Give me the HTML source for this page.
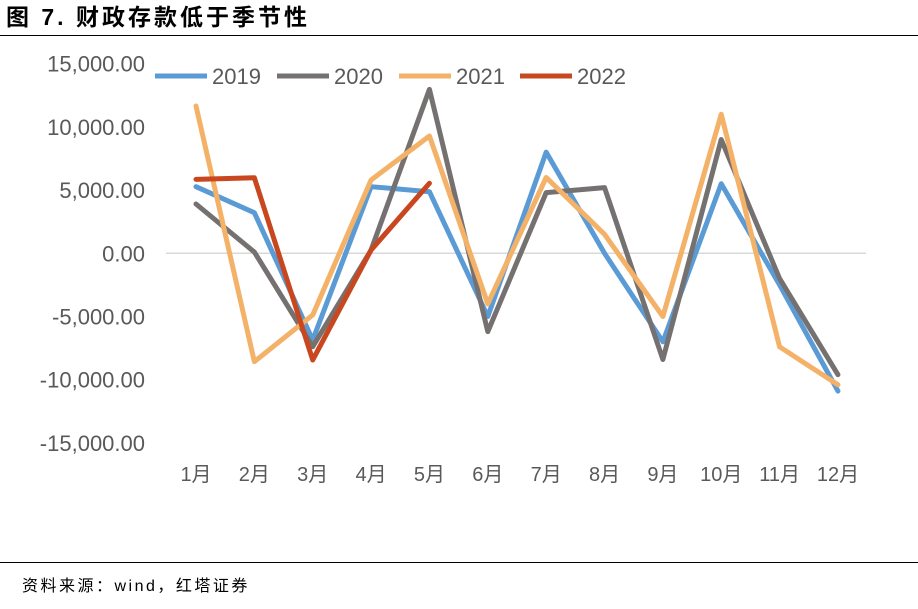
<!DOCTYPE html>
<html><head><meta charset="utf-8"><style>
body{margin:0;background:#fff;width:918px;height:604px;overflow:hidden;font-family:"Liberation Sans","Noto Sans CJK SC",sans-serif}
</style></head><body>
<svg width="918" height="604" xmlns="http://www.w3.org/2000/svg">
<text x="6" y="25" font-size="23" font-weight="bold" letter-spacing="3" fill="#000" font-family="Liberation Sans,Noto Sans CJK SC,sans-serif">图 7. 财政存款低于季节性</text>
<line x1="0" y1="35.5" x2="918" y2="35.5" stroke="#000" stroke-width="1"/>
<line x1="0" y1="562.5" x2="918" y2="562.5" stroke="#000" stroke-width="1"/>
<text x="22" y="591" font-size="16" letter-spacing="2.5" fill="#000" font-family="Liberation Sans,Noto Sans CJK SC,sans-serif">资料来源：wind，红塔证券</text>
<g id="axes"></g><g id="series"></g><g id="legend"></g>
</svg>
<script>
const months=["1月","2月","3月","4月","5月","6月","7月","8月","9月","10月","11月","12月"];
const yTicks=[15000,10000,5000,0,-5000,-10000,-15000];
const yTickLabels=["15,000.00","10,000.00","5,000.00","0.00","-5,000.00","-10,000.00","-15,000.00"];
const seriesNames=["2019","2020","2021","2022"];
const s2019=[5270,3210,-6860,5270,4870,-5000,8000,0,-7000,5500,-2500,-10900];
const s2020=[3900,100,-7390,260,12970,-6200,4800,5200,-8400,9000,-2000,-9600];
const s2021=[11650,-8570,-4880,5800,9280,-4000,6000,1500,-5000,11000,-7400,-10400];
const s2022=[5850,5980,-8440,260,5540];
const colors=["#5b9bd5","#767171","#f4b168","#c9471f"];
const NS="http://www.w3.org/2000/svg";
const x=i=>196+i*58.36;
const y=v=>253.3-v*0.01264;
function mk(t,a,p){const e=document.createElementNS(NS,t);for(const k in a)e.setAttribute(k,a[k]);p.appendChild(e);return e;}
const axes=document.getElementById('axes');
const zl=mk('line',{x1:166,x2:866,y1:y(0),y2:y(0),stroke:'#d9d9d9','stroke-width':1.5},axes);


yTicks.forEach((v,i)=>{const t=mk('text',{x:145,y:y(v)+8,'text-anchor':'end','font-size':22,fill:'#595959'},axes);t.textContent=yTickLabels[i];

});
months.forEach((m,i)=>{const t=mk('text',{x:x(i),y:481,'text-anchor':'middle','font-size':20,fill:'#595959'},axes);t.textContent=m;

});
const sg=document.getElementById('series');
[s2019,s2020,s2021,s2022].forEach((d,k)=>{const p=mk('polyline',{points:d.map((v,i)=>x(i)+','+y(v)).join(' '),fill:'none',stroke:colors[k],'stroke-width':5,'stroke-linejoin':'round','stroke-linecap':'round'},sg);

});
const lg=document.getElementById('legend');
const lx=[155,277,399,520];
seriesNames.forEach((n,k)=>{const g=mk('g',{},lg);


mk('line',{x1:lx[k],x2:lx[k]+52,y1:76,y2:76,stroke:colors[k],'stroke-width':5},g);
const t=mk('text',{x:lx[k]+57,y:84,'font-size':22,fill:'#595959'},g);t.textContent=n;});
</script>
</body></html>
